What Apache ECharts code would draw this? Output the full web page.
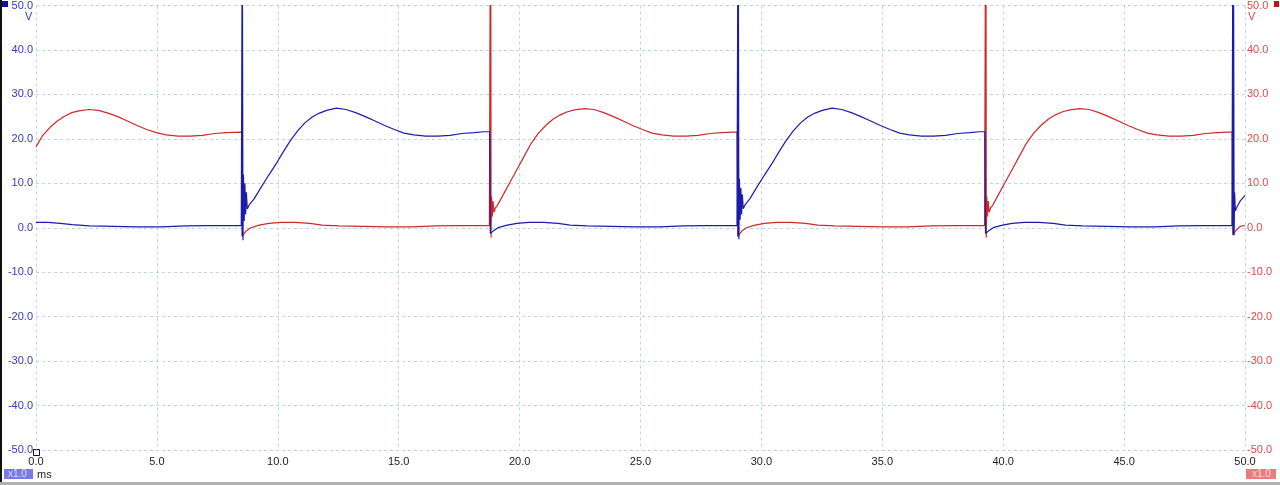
<!DOCTYPE html>
<html><head><meta charset="utf-8">
<script src="https://cdn.jsdelivr.net/npm/echarts@6/dist/echarts.min.js"></script>
<style>html,body{margin:0;padding:0;background:#fff;overflow:hidden}#c{width:1280px;height:485px}</style>
</head><body><div id="c"></div>
<script>
// Axis settings (ms / V)
const xRange = [0, 50];
const xStep = 5;
const yRange = [-50, 50];
const yStep = 10;
const xUnit = 'ms';
const yUnit = 'V';
const scaleBadge = 'x1.0';

// Channel A (blue), [time ms, volts]
const channelA = [
  [0,1.2],[0.5,1.2],[1.0,1.0],[1.5,0.7],[2.2,0.4],[3.2,0.3],[4.2,0.2],[5.2,0.2],[6.2,0.4],[7.2,0.5],[8.49,0.5],
  [8.52,51],[8.53,-2.0],[8.54,51],[8.56,-2.8],[8.58,12],[8.61,1.5],[8.64,10],[8.67,3],[8.70,8],[8.74,4.2],[8.82,5.2],
  [9.02,6.5],[9.32,9.2],[9.62,11.8],[9.92,14.3],[10.22,17.0],[10.52,19.6],[10.82,21.8],[11.12,23.6],[11.42,24.9],
  [11.72,25.8],[12.02,26.4],[12.42,26.9],[12.82,26.6],[13.22,25.9],[13.62,25.0],[14.02,24.0],[14.42,23.0],[14.82,22.1],
  [15.22,21.3],[15.62,20.9],[16.12,20.6],[16.62,20.6],[17.12,20.8],[17.62,21.2],[18.12,21.4],[18.52,21.6],[18.76,21.6],
  [18.79,-1.3],[18.84,-1.5],[18.94,-0.6],[19.14,0.1],[19.49,0.6],[19.89,1.0],[20.39,1.2],[20.99,1.2],[21.59,1.0],
  [22.09,0.6],[22.79,0.4],[23.79,0.3],[24.79,0.2],[25.79,0.2],[26.79,0.4],[27.79,0.5],[28.99,0.5],
  [29.02,51],[29.03,-2.0],[29.05,51],[29.07,-2.6],[29.09,11],[29.12,1.8],[29.15,9],[29.18,3],[29.21,7.5],[29.25,4.3],[29.33,5.2],
  [29.52,6.5],[29.82,9.2],[30.12,11.8],[30.42,14.3],[30.72,17.0],[31.02,19.6],[31.32,21.8],[31.62,23.6],[31.92,24.9],
  [32.22,25.8],[32.52,26.4],[32.92,26.9],[33.32,26.6],[33.72,25.9],[34.12,25.0],[34.52,24.0],[34.92,23.0],[35.32,22.1],
  [35.72,21.3],[36.12,20.9],[36.62,20.6],[37.12,20.6],[37.62,20.8],[38.12,21.2],[38.62,21.4],[39.02,21.6],[39.24,21.6],
  [39.27,-1.3],[39.32,-1.5],[39.42,-0.6],[39.62,0.1],[39.97,0.6],[40.37,1.0],[40.87,1.2],[41.47,1.2],[42.07,1.0],
  [42.57,0.6],[43.27,0.4],[44.27,0.3],[45.27,0.2],[46.27,0.2],[47.27,0.4],[48.27,0.5],[49.46,0.5],
  [49.49,51],[49.51,-1.7],[49.53,51],[49.55,-1.7],[49.57,8],[49.60,3.8],[49.66,4.6],[49.8,6.0],[50,7.3]
];

// Channel B (red), [time ms, volts]
const channelB = [
  [0,18.2],[0.28,20.8],[0.58,22.6],[0.88,24.0],[1.18,25.1],[1.48,25.9],[1.78,26.3],[2.18,26.6],[2.58,26.4],[2.98,25.8],
  [3.38,25.0],[3.78,24.0],[4.18,23.0],[4.58,22.1],[4.98,21.4],[5.38,20.9],[5.88,20.6],[6.38,20.6],[6.88,20.8],
  [7.38,21.2],[7.88,21.4],[8.50,21.5],
  [8.53,-1.8],[8.58,-2.0],[8.68,-0.8],[8.88,0.0],[9.23,0.6],[9.63,1.0],[10.13,1.2],[10.73,1.2],[11.33,1.0],[11.83,0.6],
  [12.53,0.4],[13.53,0.3],[14.53,0.2],[15.53,0.2],[16.53,0.4],[17.53,0.5],[18.75,0.5],
  [18.78,51],[18.80,-1.0],[18.81,51],[18.82,-2.2],[18.84,7],[18.87,2.5],[18.90,6],[18.94,3.5],[19.00,4.5],[19.08,5.0],
  [19.28,7.0],[19.58,10.0],[19.88,13.0],[20.18,16.0],[20.48,19.0],[20.78,21.3],[21.08,23.0],[21.38,24.4],[21.68,25.4],
  [21.98,26.1],[22.28,26.5],[22.68,26.8],[23.08,26.6],[23.48,25.9],[23.88,25.0],[24.28,24.0],[24.68,23.0],[25.08,22.1],
  [25.48,21.3],[25.88,20.9],[26.38,20.6],[26.88,20.6],[27.38,20.8],[27.88,21.2],[28.38,21.4],[28.78,21.5],[28.99,21.5],
  [29.03,-1.8],[29.08,-2.0],[29.18,-0.8],[29.38,0.0],[29.73,0.6],[30.13,1.0],[30.63,1.2],[31.23,1.2],[31.83,1.0],
  [32.33,0.6],[33.03,0.4],[34.03,0.3],[35.03,0.2],[36.03,0.2],[37.03,0.4],[38.03,0.5],[39.23,0.5],
  [39.26,51],[39.28,-1.0],[39.29,51],[39.30,-2.2],[39.32,7],[39.35,2.5],[39.38,6],[39.42,3.5],[39.48,4.5],[39.56,5.0],
  [39.76,7.0],[40.06,10.0],[40.36,13.0],[40.66,16.0],[40.96,19.0],[41.26,21.3],[41.56,23.0],[41.86,24.4],[42.16,25.4],
  [42.46,26.1],[42.76,26.5],[43.16,26.8],[43.56,26.6],[43.96,25.9],[44.36,25.0],[44.76,24.0],[45.16,23.0],[45.56,22.1],
  [45.96,21.3],[46.36,20.9],[46.86,20.6],[47.36,20.6],[47.86,20.8],[48.36,21.2],[48.86,21.4],[49.26,21.5],[49.47,21.5],
  [49.50,-1.5],[49.55,-1.7],[49.65,-0.5],[49.8,0.3],[50,0.5]
];

const blue = '#1c1caa';
const red = '#d02828';
const gridColor = '#bcd6e4';
const font = 'Liberation Sans, Arial, sans-serif';

const chart = echarts.init(document.getElementById('c'), null, {renderer: 'canvas'});
chart.setOption({
  animation: false,
  backgroundColor: '#ffffff',
  grid: {left: 36, right: 35, top: 4, bottom: 35, containLabel: false},
  xAxis: {
    type: 'value', min: xRange[0], max: xRange[1], interval: xStep,
    axisLine: {show: false}, axisTick: {show: false},
    axisLabel: {color: '#222', fontSize: 11, fontFamily: font, margin: 6, formatter: v => v.toFixed(1)},
    splitLine: {show: true, lineStyle: {color: gridColor, type: [3, 3], width: 1}}
  },
  yAxis: [
    {
      type: 'value', min: yRange[0], max: yRange[1], interval: yStep, position: 'left',
      axisLine: {show: false}, axisTick: {show: false},
      axisLabel: {color: '#3535c8', fontSize: 11, fontFamily: font, margin: 3, formatter: v => v.toFixed(1)},
      splitLine: {show: true, lineStyle: {color: gridColor, type: [3, 3], width: 1}}
    },
    {
      type: 'value', min: yRange[0], max: yRange[1], interval: yStep, position: 'right',
      axisLine: {show: false}, axisTick: {show: false},
      axisLabel: {color: '#e04a4a', fontSize: 11, fontFamily: font, margin: 2, formatter: v => v.toFixed(1)},
      splitLine: {show: false}
    }
  ],
  series: [
    {type: 'line', yAxisIndex: 1, data: channelB, showSymbol: false, clip: true,
     lineStyle: {color: red, width: 1.2}, itemStyle: {color: red}},
    {type: 'line', yAxisIndex: 0, data: channelA, showSymbol: false, clip: true,
     lineStyle: {color: blue, width: 1.2}, itemStyle: {color: blue}}
  ],
  graphic: [
    {type: 'rect', left: 0, top: 0, shape: {width: 2, height: 485}, style: {fill: '#111'}},
    {type: 'rect', left: 0, top: 482, shape: {width: 1280, height: 3}, style: {fill: '#b0b0b0'}},
    {type: 'rect', left: 2, top: 1, shape: {width: 6, height: 6}, style: {fill: '#1010a0'}},
    {type: 'rect', left: 1274, top: 1, shape: {width: 5, height: 6}, style: {fill: '#c01010'}},
    {type: 'text', left: 25, top: 11, style: {text: yUnit, fill: '#3535c8', font: '11px ' + font}},
    {type: 'text', left: 1248, top: 11, style: {text: yUnit, fill: '#e04a4a', font: '11px ' + font}},
    {type: 'rect', left: 33, top: 449, shape: {width: 6, height: 6}, style: {fill: 'rgba(0,0,0,0)', stroke: '#111', lineWidth: 1}},
    {type: 'rect', left: 4, top: 469, shape: {width: 29, height: 10}, style: {fill: '#7878e6'}},
    {type: 'text', left: 8, top: 469, style: {text: scaleBadge, fill: '#dcdcff', font: '10px ' + font}},
    {type: 'text', left: 37, top: 469, style: {text: xUnit, fill: '#222', font: '11px ' + font}},
    {type: 'rect', left: 1246, top: 469, shape: {width: 30, height: 10}, style: {fill: '#f07a7a'}},
    {type: 'text', left: 1252, top: 469, style: {text: scaleBadge, fill: '#ffe0e0', font: '10px ' + font}}
  ]
});
</script>
</body></html>
